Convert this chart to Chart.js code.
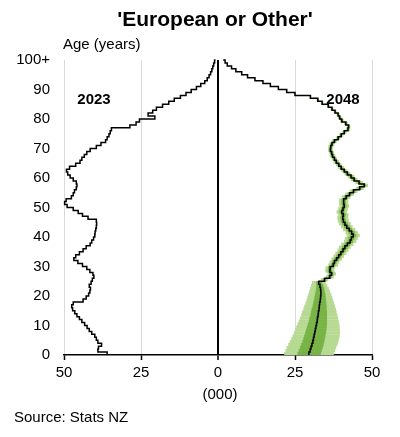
<!DOCTYPE html>
<html>
<head>
<meta charset="utf-8">
<script src="https://cdn.jsdelivr.net/npm/chart.js@4"></script>
<style>
  html, body { margin: 0; padding: 0; background: #fff; }
  #wrap { width: 400px; height: 437px; }
</style>
</head>
<body>
<div id="wrap"><canvas id="pyramid" width="400" height="437"></canvas></div>
<script>
// single years of age, 0 .. 100+ (top one is the open group)
const ages = Array.from({ length: 101 }, (_, i) => i);
const yTicks = [0, 10, 20, 30, 40, 50, 60, 70, 80, 90, 100];
const xTicks = [-50, -25, 0, 25, 50];

// 2023 estimate, thousands
const pop2023 = [
  36.0, 39.0, 38.8, 37.8, 39.0, 39.5, 40.0, 41.0, 41.8, 42.5,
  43.3, 44.2, 45.0, 45.8, 46.5, 47.2, 47.5, 47.0, 43.8, 42.8,
  42.0, 41.6, 41.4, 41.8, 41.2, 40.8, 40.3, 40.6, 41.6, 42.6,
  44.0, 45.5, 46.8, 46.2, 45.0, 43.8, 42.8, 41.5, 41.0, 40.4,
  40.0, 39.9, 39.7, 39.5, 39.4, 39.5, 42.2, 44.0, 45.4, 47.0,
  49.0, 49.8, 49.3, 47.6, 47.0, 46.6, 46.0, 45.8, 46.0, 47.0,
  48.0, 48.8, 49.2, 48.2, 46.2, 44.8, 44.2, 43.4, 42.6, 41.5,
  39.5, 38.0, 36.5, 36.0, 35.4, 35.0, 34.6, 28.6, 26.6, 25.5,
  20.5, 22.7, 21.2, 20.0, 18.0, 16.0, 14.2, 12.2, 10.4, 8.7,
  7.0, 5.6, 4.3, 3.5, 2.9, 2.4, 2.0, 1.7, 1.4, 1.1, 0.8
];

// 2048 projection, median, thousands
const pop2048 = [
  29.5, 29.9, 30.2, 30.5, 30.8, 31.0, 31.2, 31.4, 31.6, 31.8,
  32.0, 32.2, 32.3, 32.5, 32.6, 32.8, 32.9, 33.0, 33.2, 33.3,
  33.4, 33.4, 33.3, 33.1, 32.7, 34.6, 36.3, 36.9, 36.3, 36.4,
  37.4, 37.8, 38.5, 39.2, 39.9, 40.6, 41.2, 42.0, 42.9, 43.3,
  43.9, 43.4, 42.6, 41.8, 41.2, 40.7, 40.5, 40.7, 40.2, 40.6,
  41.0, 40.8, 40.8, 41.6, 42.7, 44.0, 46.0, 47.5, 45.8, 44.2,
  43.2, 42.0, 41.0, 40.0, 39.2, 38.4, 37.8, 37.2, 36.9, 36.5,
  36.6, 37.0, 37.8, 39.0, 40.0, 41.0, 42.2, 42.4, 41.5, 40.2,
  39.5, 39.0, 38.0, 37.0, 35.8, 33.8, 32.4, 30.0, 25.0, 22.3,
  19.6, 17.0, 14.6, 12.0, 9.6, 7.7, 5.8, 4.4, 3.0, 2.3, 1.7
];

// 2048 uncertainty bands, ages 0..89 (outer = light, inner = mid green)
const outerLow = [
  21.5, 21.9, 22.3, 22.8, 23.3, 23.8, 24.2, 24.6, 25.0, 25.4,
  25.8, 26.2, 26.6, 27.0, 27.3, 27.7, 28.0, 28.4, 28.7, 29.0,
  29.3, 29.6, 29.9, 30.2, 30.5, 33.4, 35.0, 35.5, 34.8, 34.9,
  35.8, 36.2, 36.8, 37.5, 38.1, 38.8, 39.3, 40.0, 40.9, 41.2,
  41.8, 41.4, 40.6, 39.9, 39.3, 38.9, 38.7, 39.0, 38.5, 39.0,
  39.4, 39.3, 39.3, 40.2, 41.3, 42.7, 44.7, 46.3, 44.6, 43.1,
  42.1, 41.0, 40.0, 39.0, 38.3, 37.5, 36.9, 36.3, 36.1, 35.7,
  35.8, 36.2, 37.0, 38.3, 39.3, 40.3, 41.5, 41.8, 40.9, 39.6,
  38.9, 38.5, 37.5, 36.5, 35.4, 33.4, 32.0, 29.7, 24.7, 22.0
];
const outerHigh = [
  37.6, 38.0, 38.4, 38.8, 39.1, 39.3, 39.5, 39.6, 39.6, 39.5,
  39.4, 39.2, 39.0, 38.8, 38.5, 38.3, 38.0, 37.7, 37.4, 37.1,
  36.8, 36.4, 36.0, 35.5, 35.0, 35.8, 37.6, 38.3, 37.8, 37.9,
  39.0, 39.4, 40.2, 40.9, 41.7, 42.4, 43.1, 44.0, 44.9, 45.4,
  46.0, 45.4, 44.6, 43.7, 43.1, 42.5, 42.3, 42.4, 41.9, 42.2,
  42.6, 42.3, 42.3, 43.0, 44.1, 45.3, 47.3, 48.7, 47.0, 45.3,
  44.3, 43.0, 42.0, 41.0, 40.1, 39.3, 38.7, 38.1, 37.7, 37.3,
  37.4, 37.8, 38.6, 39.7, 40.7, 41.7, 42.9, 43.0, 42.1, 40.8,
  40.1, 39.5, 38.5, 37.5, 36.2, 34.2, 32.8, 30.3, 25.3, 22.6
];
const innerLow = [
  25.8, 26.2, 26.6, 27.0, 27.4, 27.7, 28.0, 28.3, 28.6, 28.9,
  29.2, 29.5, 29.7, 30.0, 30.2, 30.4, 30.7, 30.9, 31.1, 31.3,
  31.5, 31.7, 31.8, 31.9, 31.9, 34.1, 35.7, 36.3, 35.6, 35.7,
  36.7, 37.1, 37.7, 38.4, 39.1, 39.8, 40.3, 41.1, 42.0, 42.3,
  42.9, 42.4, 41.7, 40.9, 40.3, 39.9, 39.7, 39.9, 39.4, 39.9,
  40.3, 40.1, 40.1, 41.0, 42.1, 43.4, 45.4, 47.0, 45.3, 43.7,
  42.7, 41.5, 40.6, 39.6, 38.8, 38.0, 37.4, 36.8, 36.5, 36.1,
  36.2, 36.6, 37.4, 38.7, 39.7, 40.7, 41.9, 42.1, 41.2, 39.9,
  39.2, 38.8, 37.8, 36.8, 35.6, 33.6, 32.2, 29.9, 24.9, 22.2
];
const innerHigh = [
  33.4, 33.7, 34.0, 34.3, 34.5, 34.7, 34.9, 35.1, 35.2, 35.3,
  35.4, 35.4, 35.4, 35.4, 35.4, 35.3, 35.3, 35.2, 35.1, 35.0,
  34.9, 34.7, 34.5, 34.2, 33.8, 35.1, 36.9, 37.5, 37.0, 37.1,
  38.1, 38.5, 39.3, 40.0, 40.7, 41.4, 42.1, 42.9, 43.8, 44.3,
  44.9, 44.4, 43.5, 42.7, 42.1, 41.5, 41.3, 41.5, 41.0, 41.3,
  41.7, 41.5, 41.5, 42.2, 43.3, 44.6, 46.6, 48.0, 46.3, 44.7,
  43.7, 42.5, 41.4, 40.4, 39.6, 38.8, 38.2, 37.6, 37.3, 36.9,
  37.0, 37.4, 38.2, 39.3, 40.3, 41.3, 42.5, 42.7, 41.8, 40.5,
  39.8, 39.2, 38.2, 37.2, 36.0, 34.0, 32.6, 30.1, 25.1, 22.4
];

const FONT = 'Arial, "Liberation Sans", sans-serif';

// step lines: each age is drawn from age to age+1, so close off the top group
function stepPoints(vals, sign) {
  let pts = ages.map(a => ({ x: sign * vals[a], y: a }));
  pts.push({ x: sign * vals[vals.length - 1], y: ages.length });
  return pts;
}
function bandBars(lo, hi) {
  return lo.map((v, a) => ({ x: [v, hi[a]], y: a + 0.5 }));
}

const textLayer = {
  id: "textLayer",
  afterDraw(chart) {
    const ctx = chart.ctx;
    ctx.save();
    ctx.fillStyle = "#000";
    ctx.textBaseline = "middle";
    ctx.textAlign = "center";
    ctx.font = "bold 21px " + FONT;
    ctx.fillText("'European or Other'", 215, 20);
    ctx.font = "bold 15px " + FONT;
    ctx.fillText("2023", 94, 100);
    ctx.fillText("2048", 343, 100);
    ctx.font = "15px " + FONT;
    ctx.fillText("(000)", 220, 395);
    ctx.textAlign = "left";
    ctx.fillText("Age (years)", 63, 45);
    ctx.fillText("Source: Stats NZ", 14, 418);
    ctx.restore();
  },
};

new Chart(document.getElementById("pyramid"), {
  type: "bar",
  data: {
    datasets: [
      {
        type: "line",
        label: "2023",
        data: stepPoints(pop2023, -1),
        borderColor: "#000",
        borderWidth: 1.5,
        pointRadius: 0,
        stepped: "after",
        fill: false,
        clip: false,
        order: 0,
      },
      {
        type: "line",
        label: "2048",
        data: stepPoints(pop2048, 1),
        borderColor: "#000",
        borderWidth: 1.5,
        pointRadius: 0,
        stepped: "after",
        fill: false,
        clip: false,
        order: 0,
      },
      {
        label: "inner",
        data: bandBars(innerLow, innerHigh),
        backgroundColor: "#78b346",
        borderWidth: 0,
        grouped: false,
        barPercentage: 1,
        categoryPercentage: 1.15,
        order: 1,
      },
      {
        label: "outer",
        data: bandBars(outerLow, outerHigh),
        backgroundColor: "#b7da93",
        borderWidth: 0,
        grouped: false,
        barPercentage: 1,
        categoryPercentage: 1.15,
        order: 2,
      },
    ],
  },
  options: {
    indexAxis: "y",
    responsive: false,
    animation: false,
    layout: { padding: { top: 60, right: 28, bottom: 30, left: 0 } },
    plugins: {
      legend: { display: false },
      tooltip: { enabled: false },
      title: { display: false },
    },
    scales: {
      x: {
        type: "linear",
        min: -50,
        max: 50,
        afterFit: (s) => { s.height = 52; },
        afterBuildTicks: (s) => { s.ticks = xTicks.map(v => ({ value: v })); },
        ticks: {
          color: "#000",
          font: { size: 15, family: FONT },
          padding: 4,
          callback: (v) => Math.abs(v),
        },
        grid: {
          color: (c) => (c.tick && c.tick.value === 0 ? "#000" : "#d9d9d9"),
          lineWidth: (c) => (c.tick && c.tick.value === 0 ? 2 : 1),
          tickColor: "#000",
          tickWidth: 1.5,
          tickLength: 5,
        },
        border: { display: true, color: "#000", width: 1.5 },
      },
      y: {
        type: "linear",
        min: 0,
        max: 100,
        offset: false,
        afterFit: (s) => { s.width = 64; },
        afterBuildTicks: (s) => { s.ticks = yTicks.map(v => ({ value: v })); },
        ticks: {
          color: "#000",
          font: { size: 15, family: FONT },
          padding: 14,
          callback: (v) => (v === 100 ? "100+" : v),
        },
        grid: { display: false, drawTicks: false, offset: false },
        border: { display: false },
      },
    },
  },
  plugins: [textLayer],
});
</script>
</body>
</html>
